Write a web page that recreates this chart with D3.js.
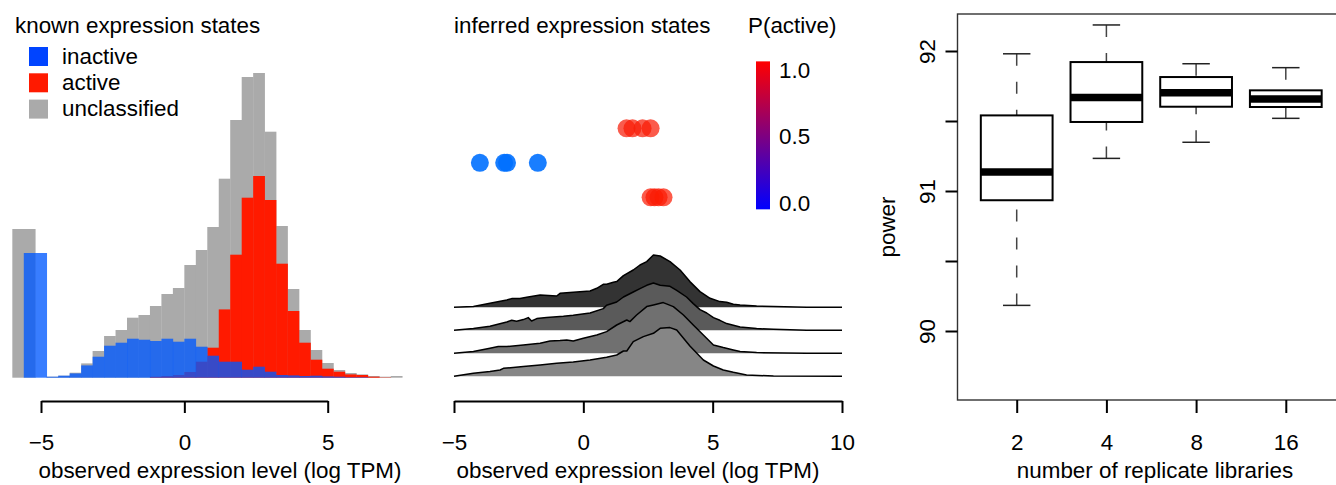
<!DOCTYPE html>
<html>
<head>
<meta charset="utf-8">
<script src="https://cdn.jsdelivr.net/npm/d3@7"></script>
<style>
	body { margin: 0; background: #fff; }
	svg { display: block; font-family: "Liberation Sans", Arial, sans-serif; }
</style>
</head>
<body>
<div id="chart"></div>
<script>
// ---- left panel: histogram of known expression states (bins of 0.4 log TPM)
const binLeft = [-6.0, -5.6, -5.2, -4.8, -4.4, -4.0, -3.6, -3.2, -2.8, -2.4, -2.0, -1.6,
	-1.2, -0.8, -0.4, 0.0, 0.4, 0.8, 1.2, 1.6, 2.0, 2.4, 2.8, 3.2, 3.6, 4.0, 4.4, 4.8,
	5.2, 5.6, 6.0, 6.4, 6.8, 7.2];
const binWidth = 0.4;
const allCounts = [1487, 1487, 0, 10, 20, 50, 143, 267, 417, 477, 600, 627, 717, 837, 897, 1127,
	1277, 1507, 1990, 2577, 3007, 3047, 2460, 1517, 887, 477, 277, 147, 77, 47, 33, 17, 10, 17];
const activeCounts = [0, 0, 0, 0, 0, 0, 0, 0, 0, 0, 0, 0, 10, 17, 27, 57,
	160, 300, 683, 1230, 1800, 2017, 1777, 1140, 667, 350, 180, 90, 60, 33, 27, 10, 3, 0];
const inactiveCounts = [0, 1247, 1247, 10, 20, 43, 123, 210, 320, 350, 390, 380, 367, 390, 360, 390,
	310, 220, 160, 160, 80, 110, 60, 27, 23, 17, 20, 13, 10, 5, 5, 0, 0, 0];
const legendLabels = ['inactive', 'active', 'unclassified'];

// ---- middle panel: inferred states
const dotX = [1.67, 1.9, 2.29, 2.6, -4.0, -3.06, -2.95, -1.76, 2.6, 2.75, 2.91, 3.1];
const dotRow = [0, 0, 0, 0, 1, 1, 1, 1, 2, 2, 2, 2];
const dotP = [0.97, 0.98, 0.97, 0.98, 0.02, 0.03, 0.02, 0.02, 0.98, 0.99, 0.98, 0.99];

// density ridges, [log TPM, density]
const ridge1 = [[-5, 0], [-4.25, 0.007], [-3.61, 0.04], [-2.96, 0.073], [-2.77, 0.087], [-2.45, 0.087],
	[-2.19, 0.1], [-1.67, 0.123], [-1.03, 0.113], [-0.9, 0.14], [-0.39, 0.15], [0.26, 0.163],
	[0.52, 0.19], [0.77, 0.23], [0.9, 0.23], [1.16, 0.25], [1.29, 0.257], [1.55, 0.317], [1.93, 0.373],
	[2.19, 0.423], [2.45, 0.457], [2.71, 0.523], [2.97, 0.513], [3.35, 0.457], [3.74, 0.373],
	[4.12, 0.257], [4.51, 0.157], [4.9, 0.09], [5.28, 0.057], [5.54, 0.05], [5.8, 0.03],
	[6.06, 0.023], [6.7, 0.013], [7.35, 0.007], [8.63, 0], [10, 0]];
const ridge2 = [[-5, 0], [-4.25, 0.017], [-3.61, 0.04], [-2.96, 0.083], [-2.77, 0.1], [-2.58, 0.09],
	[-2.32, 0.107], [-2.13, 0.127], [-2.0, 0.093], [-1.8, 0.117], [-1.42, 0.127], [-0.77, 0.14],
	[-0.39, 0.15], [0.26, 0.173], [0.77, 0.217], [0.9, 0.25], [1.29, 0.283], [1.55, 0.333],
	[1.93, 0.383], [2.19, 0.417], [2.45, 0.45], [2.71, 0.473], [2.97, 0.45], [3.35, 0.44],
	[3.61, 0.4], [3.99, 0.333], [4.25, 0.267], [4.51, 0.207], [4.77, 0.173], [5.03, 0.127],
	[5.28, 0.1], [5.54, 0.067], [5.8, 0.05], [6.06, 0.033], [6.7, 0.017], [7.35, 0.01], [8.63, 0], [10, 0]];
const ridge3 = [[-5, 0], [-4.25, 0.017], [-3.61, 0.05], [-3.29, 0.067], [-2.96, 0.067], [-2.32, 0.083],
	[-1.67, 0.1], [-1.29, 0.123], [-0.9, 0.127], [-0.64, 0.133], [-0.39, 0.123], [0.0, 0.15],
	[0.52, 0.183], [0.9, 0.217], [1.29, 0.283], [1.68, 0.333], [1.8, 0.317], [2.06, 0.383],
	[2.45, 0.467], [2.71, 0.483], [3.09, 0.507], [3.48, 0.467], [3.87, 0.383], [4.25, 0.283],
	[4.64, 0.183], [5.03, 0.083], [5.41, 0.057], [5.8, 0.033], [6.06, 0.017], [6.7, 0.007],
	[8.63, 0], [10, 0]];
const ridge4 = [[-5, 0], [-4.25, 0.03], [-3.61, 0.047], [-3.22, 0.063], [-3.09, 0.08], [-2.32, 0.097],
	[-1.67, 0.113], [-1.03, 0.13], [-0.39, 0.143], [0.26, 0.163], [0.9, 0.19], [1.29, 0.213],
	[1.55, 0.253], [1.68, 0.253], [1.93, 0.347], [2.32, 0.397], [2.71, 0.43], [2.97, 0.48],
	[3.35, 0.487], [3.61, 0.463], [4.12, 0.303], [4.64, 0.163], [5.03, 0.103], [5.41, 0.063],
	[5.8, 0.04], [6.31, 0.013], [7.35, 0.003], [10, 0]];
const ridgeFills = ['#333333', '#5a5a5a', '#707070', '#868686'];
const colorbarTicks = [0, 0.5, 1];

// ---- right panel: power vs replicate libraries
const replicates = ['2', '4', '8', '16'];
const whiskerLow = [90.183, 91.233, 91.348, 91.519];
const q1 = [90.934, 91.493, 91.602, 91.6];
const medians = [91.136, 91.667, 91.702, 91.657];
const q3 = [91.54, 91.921, 91.814, 91.719];
const whiskerHigh = [91.98, 92.186, 91.909, 91.881];
const powerTicks = [90, 90.5, 91, 91.5, 92];

const inactiveColor = '#0044ff';
const inactiveFill = '#0058ff';
const dotBlue = '#0070ff';
const activeColor = '#ff1a00';
const unclassColor = '#aaaaaa';
const fontSize = 22.4;

const svg = d3.select('#chart')
	.append('svg')
	.attr('width', 1336)
	.attr('height', 485);

const axisY = 401;

function styleAxis(g, labelY) {
	g.select('.domain').attr('stroke', '#000').attr('stroke-width', 2);
	g.selectAll('.tick line').attr('stroke', '#000').attr('stroke-width', 2);
	g.selectAll('.tick text')
		.attr('y', labelY)
		.attr('dy', 0)
		.attr('fill', '#000')
		.style('font-size', fontSize + 'px')
		.style('font-family', '"Liberation Sans", Arial, sans-serif');
}

// ================= left panel =================
var xLeft = d3.scaleLinear().domain([-5, 5]).range([41, 327.7]);
var yCount = d3.scaleLinear().domain([0, 3100]).range([377.7, 67.7]);

function drawHist(counts, color, opacity) {
	svg.append('g')
		.selectAll('rect')
		.data(counts.map((c, i) => [binLeft[i], c]).filter(d => d[1] > 0))
		.enter()
		.append('rect')
		.attr('x', d => xLeft(d[0]))
		.attr('width', d => xLeft(d[0] + binWidth) - xLeft(d[0]) + 0.3)
		.attr('y', d => yCount(d[1]))
		.attr('height', d => yCount(0) - yCount(d[1]))
		.attr('fill', color)
		.attr('fill-opacity', opacity);
}
drawHist(allCounts, unclassColor, 1);
drawHist(activeCounts, activeColor, 1);
drawHist(inactiveCounts, inactiveFill, 0.78);

svg.append('g')
	.attr('transform', `translate(0,${axisY})`)
	.call(d3.axisBottom(xLeft).tickValues([-5, 0, 5]).tickSize(12).tickSizeOuter(0).tickPadding(0))
	.call(styleAxis, 49);

svg.append('text')
	.attr('x', 15).attr('y', 33)
	.style('font-size', fontSize + 'px')
	.text('known expression states');

var legend = svg.append('g')
	.selectAll('g')
	.data(legendLabels)
	.enter()
	.append('g')
	.attr('transform', (d, i) => `translate(29, ${47 + i * 26.3})`);
legend.append('rect')
	.attr('width', 19).attr('height', 19)
	.attr('fill', (d, i) => [inactiveColor, activeColor, unclassColor][i]);
legend.append('text')
	.attr('x', 33).attr('y', 16.5)
	.style('font-size', fontSize + 'px')
	.text(d => d);

svg.append('text')
	.attr('x', 220).attr('y', 478)
	.attr('text-anchor', 'middle')
	.style('font-size', fontSize + 'px')
	.text('observed expression level (log TPM)');

// ================= middle panel =================
var xMid = d3.scaleLinear().domain([-5, 10]).range([454, 842]);
var ridgeBase = d3.scaleLinear().domain([0, 3]).range([307.3, 376.3]);
var ridgeHeight = d3.scaleLinear().domain([0, 1]).range([0, 100]);
var dotY = d3.scaleLinear().domain([0, 2]).range([128.3, 197.3]);
var pColor = d3.scaleLinear().domain([0, 1]).range([dotBlue, activeColor]);

[ridge1, ridge2, ridge3, ridge4].forEach(function(ridge, i) {
	const base = ridgeBase(i);
	const area = d3.area()
		.x(d => xMid(d[0]))
		.y0(base)
		.y1(d => base - ridgeHeight(d[1]));
	const line = d3.line()
		.x(d => xMid(d[0]))
		.y(d => base - ridgeHeight(d[1]));
	svg.append('path')
		.datum(ridge)
		.attr('d', area)
		.attr('fill', ridgeFills[i]);
	svg.append('path')
		.datum(ridge)
		.attr('d', line)
		.attr('fill', 'none')
		.attr('stroke', '#000')
		.attr('stroke-width', 1.5)
		.attr('stroke-linejoin', 'round');
});

svg.append('g')
	.selectAll('circle')
	.data(dotX.map((x, i) => [x, dotRow[i], dotP[i]]))
	.enter()
	.append('circle')
	.attr('cx', d => xMid(d[0]))
	.attr('cy', d => dotY(d[1]))
	.attr('r', 9)
	.attr('fill', d => d[2] < 0.5 ? dotBlue : pColor(d[2]))
	.attr('fill-opacity', d => d[2] < 0.5 ? 0.9 : 0.72);

svg.append('g')
	.attr('transform', `translate(0,${axisY})`)
	.call(d3.axisBottom(xMid).tickValues([-5, 0, 5, 10]).tickSize(12).tickSizeOuter(0).tickPadding(0))
	.call(styleAxis, 49);

svg.append('text')
	.attr('x', 454).attr('y', 33)
	.style('font-size', fontSize + 'px')
	.text('inferred expression states');

svg.append('text')
	.attr('x', 638).attr('y', 478)
	.attr('text-anchor', 'middle')
	.style('font-size', fontSize + 'px')
	.text('observed expression level (log TPM)');

// colour bar
var cbY = d3.scaleLinear().domain([0, 1]).range([202.7, 70]);
var grad = svg.append('defs')
	.append('linearGradient')
	.attr('id', 'pgrad')
	.attr('x1', 0).attr('y1', 1).attr('x2', 0).attr('y2', 0);
grad.append('stop').attr('offset', '0%').attr('stop-color', '#0000ff');
grad.append('stop').attr('offset', '100%').attr('stop-color', '#ff0000');

svg.append('rect')
	.attr('x', 756).attr('width', 14)
	.attr('y', cbY(1.065))
	.attr('height', cbY(-0.05) - cbY(1.065))
	.attr('fill', 'url(#pgrad)');

svg.append('g')
	.selectAll('text')
	.data(colorbarTicks)
	.enter()
	.append('text')
	.attr('x', 779)
	.attr('y', d => cbY(d) + 8)
	.style('font-size', fontSize + 'px')
	.text(d => d3.format('.1f')(d));

svg.append('text')
	.attr('x', 748).attr('y', 33)
	.style('font-size', fontSize + 'px')
	.text('P(active)');

// ================= right panel =================
var xBox = d3.scaleLinear().domain([0.34, 4.66]).range([957.5, 1345]);
var yPow = d3.scaleLinear().domain([90, 92]).range([331, 51]);
const boxHalf = 0.4;
const capHalf = 0.153;

svg.append('rect')
	.attr('x', 957.5).attr('y', 14)
	.attr('width', 1345 - 957.5).attr('height', 400 - 14)
	.attr('fill', 'none')
	.attr('stroke', '#333')
	.attr('stroke-width', 1.4);

var boxData = replicates.map((r, i) => ({
	pos: i + 1, label: r, lo: whiskerLow[i], q1: q1[i], med: medians[i], q3: q3[i], hi: whiskerHigh[i]
}));

var boxes = svg.append('g')
	.selectAll('g')
	.data(boxData)
	.enter()
	.append('g');

// whiskers (dashed), drawn from the extreme towards the box
boxes.append('line')
	.attr('x1', d => xBox(d.pos)).attr('x2', d => xBox(d.pos))
	.attr('y1', d => yPow(d.hi)).attr('y2', d => yPow(d.q3))
	.attr('stroke', '#444').attr('stroke-width', 1.5)
	.attr('stroke-dasharray', '12,16');
boxes.append('line')
	.attr('x1', d => xBox(d.pos)).attr('x2', d => xBox(d.pos))
	.attr('y1', d => yPow(d.lo)).attr('y2', d => yPow(d.q1))
	.attr('stroke', '#444').attr('stroke-width', 1.5)
	.attr('stroke-dasharray', '12,16');
// caps
boxes.append('line')
	.attr('x1', d => xBox(d.pos - capHalf)).attr('x2', d => xBox(d.pos + capHalf))
	.attr('y1', d => yPow(d.hi)).attr('y2', d => yPow(d.hi))
	.attr('stroke', '#222').attr('stroke-width', 1.5);
boxes.append('line')
	.attr('x1', d => xBox(d.pos - capHalf)).attr('x2', d => xBox(d.pos + capHalf))
	.attr('y1', d => yPow(d.lo)).attr('y2', d => yPow(d.lo))
	.attr('stroke', '#222').attr('stroke-width', 1.5);
boxes.append('rect')
	.attr('x', d => xBox(d.pos - boxHalf))
	.attr('width', d => xBox(d.pos + boxHalf) - xBox(d.pos - boxHalf))
	.attr('y', d => yPow(d.q3))
	.attr('height', d => yPow(d.q1) - yPow(d.q3))
	.attr('fill', '#fff')
	.attr('stroke', '#000')
	.attr('stroke-width', 2);
boxes.append('line')
	.attr('x1', d => xBox(d.pos - boxHalf)).attr('x2', d => xBox(d.pos + boxHalf))
	.attr('y1', d => yPow(d.med)).attr('y2', d => yPow(d.med))
	.attr('stroke', '#000').attr('stroke-width', 7.5);

// x axis: ticks only, no line
var xAxisG = svg.append('g')
	.attr('transform', 'translate(0,400)')
	.call(d3.axisBottom(xBox).tickValues([1, 2, 3, 4]).tickFormat((d, i) => replicates[i])
		.tickSize(13).tickSizeOuter(0).tickPadding(0))
	.call(styleAxis, 50);
xAxisG.select('.domain').remove();

// y axis
var yAxisG = svg.append('g')
	.attr('transform', 'translate(957.5,0)')
	.call(d3.axisLeft(yPow).tickValues(powerTicks).tickFormat(d => Number.isInteger(d) ? d : '')
		.tickSize(12).tickSizeOuter(0).tickPadding(0));
yAxisG.select('.domain').remove();
yAxisG.selectAll('.tick line').attr('stroke', '#000').attr('stroke-width', 2);
yAxisG.selectAll('.tick text')
	.attr('x', 0).attr('dy', 0)
	.attr('text-anchor', 'middle')
	.attr('transform', 'translate(-22.5,0) rotate(-90)')
	.attr('fill', '#000')
	.style('font-size', fontSize + 'px')
	.style('font-family', '"Liberation Sans", Arial, sans-serif');

svg.append('text')
	.attr('transform', 'translate(895,227) rotate(-90)')
	.attr('text-anchor', 'middle')
	.style('font-size', fontSize + 'px')
	.text('power');

svg.append('text')
	.attr('x', 1155).attr('y', 478)
	.attr('text-anchor', 'middle')
	.style('font-size', fontSize + 'px')
	.text('number of replicate libraries');
</script>
</body>
</html>
